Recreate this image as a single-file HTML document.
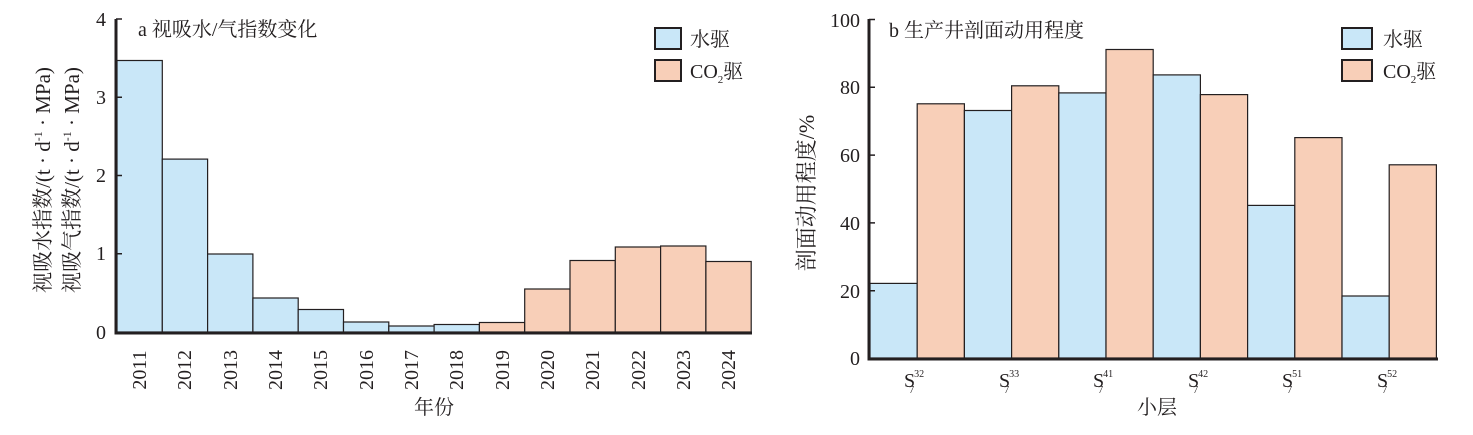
<!DOCTYPE html>
<html><head><meta charset="utf-8"><style>
body{margin:0;background:#fff}
text{font-family:"Liberation Serif","Noto Serif CJK SC",serif;fill:#231f20}
</style></head><body>
<svg width="1473" height="430" xmlns="http://www.w3.org/2000/svg">
<g stroke="#231f20" stroke-width="1.2">
<rect x="117" y="60.5" width="45.3" height="271.5" fill="#c9e7f8"/>
<rect x="162.3" y="159.1" width="45.3" height="172.9" fill="#c9e7f8"/>
<rect x="207.6" y="254" width="45.3" height="78" fill="#c9e7f8"/>
<rect x="252.9" y="298" width="45.3" height="34" fill="#c9e7f8"/>
<rect x="298.2" y="309.5" width="45.3" height="22.5" fill="#c9e7f8"/>
<rect x="343.5" y="322" width="45.3" height="10" fill="#c9e7f8"/>
<rect x="388.8" y="326" width="45.3" height="6" fill="#c9e7f8"/>
<rect x="434.1" y="324.5" width="45.3" height="7.5" fill="#c9e7f8"/>
<rect x="479.4" y="322.5" width="45.3" height="9.5" fill="#f8cfb8"/>
<rect x="524.7" y="289" width="45.3" height="43" fill="#f8cfb8"/>
<rect x="570" y="260.5" width="45.3" height="71.5" fill="#f8cfb8"/>
<rect x="615.3" y="247" width="45.3" height="85" fill="#f8cfb8"/>
<rect x="660.6" y="246" width="45.3" height="86" fill="#f8cfb8"/>
<rect x="705.9" y="261.5" width="45.3" height="70.5" fill="#f8cfb8"/>
<rect x="870" y="283.4" width="47.2" height="74.6" fill="#c9e7f8"/>
<rect x="917.2" y="103.8" width="47.2" height="254.2" fill="#f8cfb8"/>
<rect x="964.4" y="110.5" width="47.2" height="247.5" fill="#c9e7f8"/>
<rect x="1011.6" y="85.8" width="47.2" height="272.2" fill="#f8cfb8"/>
<rect x="1058.8" y="92.9" width="47.2" height="265.1" fill="#c9e7f8"/>
<rect x="1106" y="49.5" width="47.2" height="308.5" fill="#f8cfb8"/>
<rect x="1153.2" y="74.9" width="47.2" height="283.1" fill="#c9e7f8"/>
<rect x="1200.4" y="94.6" width="47.2" height="263.4" fill="#f8cfb8"/>
<rect x="1247.6" y="205.4" width="47.2" height="152.6" fill="#c9e7f8"/>
<rect x="1294.8" y="137.6" width="47.2" height="220.4" fill="#f8cfb8"/>
<rect x="1342" y="296" width="47.2" height="62" fill="#c9e7f8"/>
<rect x="1389.2" y="164.8" width="47.2" height="193.2" fill="#f8cfb8"/>
</g>
<g stroke="#231f20" stroke-width="3" fill="none">
<path d="M116 19V333H752"/>
<path d="M869 19V359H1438"/>
<rect x="655" y="28" width="26" height="21" fill="#c9e7f8" stroke-width="2"/>
<rect x="655" y="60" width="26" height="21" fill="#f8cfb8" stroke-width="2"/>
<rect x="1342" y="28" width="30" height="21" fill="#c9e7f8" stroke-width="2"/>
<rect x="1342" y="60" width="30" height="21" fill="#f8cfb8" stroke-width="2"/>
</g>
<g stroke="#231f20" stroke-width="1.5">
<path d="M116 19h6M116 97.3h6M116 175.5h6M116 253.8h6"/>
<path d="M869 19.5h6M869 87.3h6M869 155.1h6M869 222.9h6M869 290.7h6"/>
</g>
<g font-size="20" text-anchor="end">
<text x="106" y="26">4</text><text x="106" y="104">3</text><text x="106" y="182">2</text><text x="106" y="260">1</text><text x="106" y="339">0</text>
<text x="860" y="27">100</text><text x="860" y="94">80</text><text x="860" y="162">60</text><text x="860" y="230">40</text><text x="860" y="298">20</text><text x="860" y="365">0</text>
</g>
<g font-size="20" text-anchor="middle">
<g transform="rotate(-90)">
<text x="-370" y="146">2011</text><text x="-370" y="191">2012</text><text x="-370" y="237">2013</text><text x="-370" y="282">2014</text><text x="-370" y="327">2015</text><text x="-370" y="373">2016</text><text x="-370" y="418">2017</text><text x="-370" y="463">2018</text><text x="-370" y="509">2019</text><text x="-370" y="554">2020</text><text x="-370" y="599">2021</text><text x="-370" y="645">2022</text><text x="-370" y="690">2023</text><text x="-370" y="735">2024</text>
<text x="-180" y="50" font-size="21">视吸水指数/(t · d<tspan font-size="12" dy="-8">-1</tspan><tspan dy="8"> · MPa)</tspan></text>
<text x="-180" y="79" font-size="21">视吸气指数/(t · d<tspan font-size="12" dy="-8">-1</tspan><tspan dy="8"> · MPa)</tspan></text>
<text x="-193" y="814" font-size="22">剖面动用程度/%</text>
</g>
<text x="434" y="414">年份</text>
<text x="1157" y="414">小层</text>
</g>
<g font-size="20">
<text x="138" y="36">a 视吸水/气指数变化</text>
<text x="889" y="37">b 生产井剖面动用程度</text>
<text x="690" y="46">水驱</text>
<text x="690" y="78">CO<tspan font-size="11" dy="5">2</tspan><tspan dy="-5">驱</tspan></text>
<text x="1383" y="46">水驱</text>
<text x="1383" y="78">CO<tspan font-size="11" dy="5">2</tspan><tspan dy="-5">驱</tspan></text>
</g>
<g font-size="20">
<text x="904" y="387">S<tspan font-size="10" dx="-1" dy="-10">32</tspan><tspan font-size="10" dx="-15" dy="16">7</tspan></text>
<text x="999" y="387">S<tspan font-size="10" dx="-1" dy="-10">33</tspan><tspan font-size="10" dx="-15" dy="16">7</tspan></text>
<text x="1093" y="387">S<tspan font-size="10" dx="-1" dy="-10">41</tspan><tspan font-size="10" dx="-15" dy="16">7</tspan></text>
<text x="1188" y="387">S<tspan font-size="10" dx="-1" dy="-10">42</tspan><tspan font-size="10" dx="-15" dy="16">7</tspan></text>
<text x="1282" y="387">S<tspan font-size="10" dx="-1" dy="-10">51</tspan><tspan font-size="10" dx="-15" dy="16">7</tspan></text>
<text x="1377" y="387">S<tspan font-size="10" dx="-1" dy="-10">52</tspan><tspan font-size="10" dx="-15" dy="16">7</tspan></text>
</g>
</svg>
</body></html>
